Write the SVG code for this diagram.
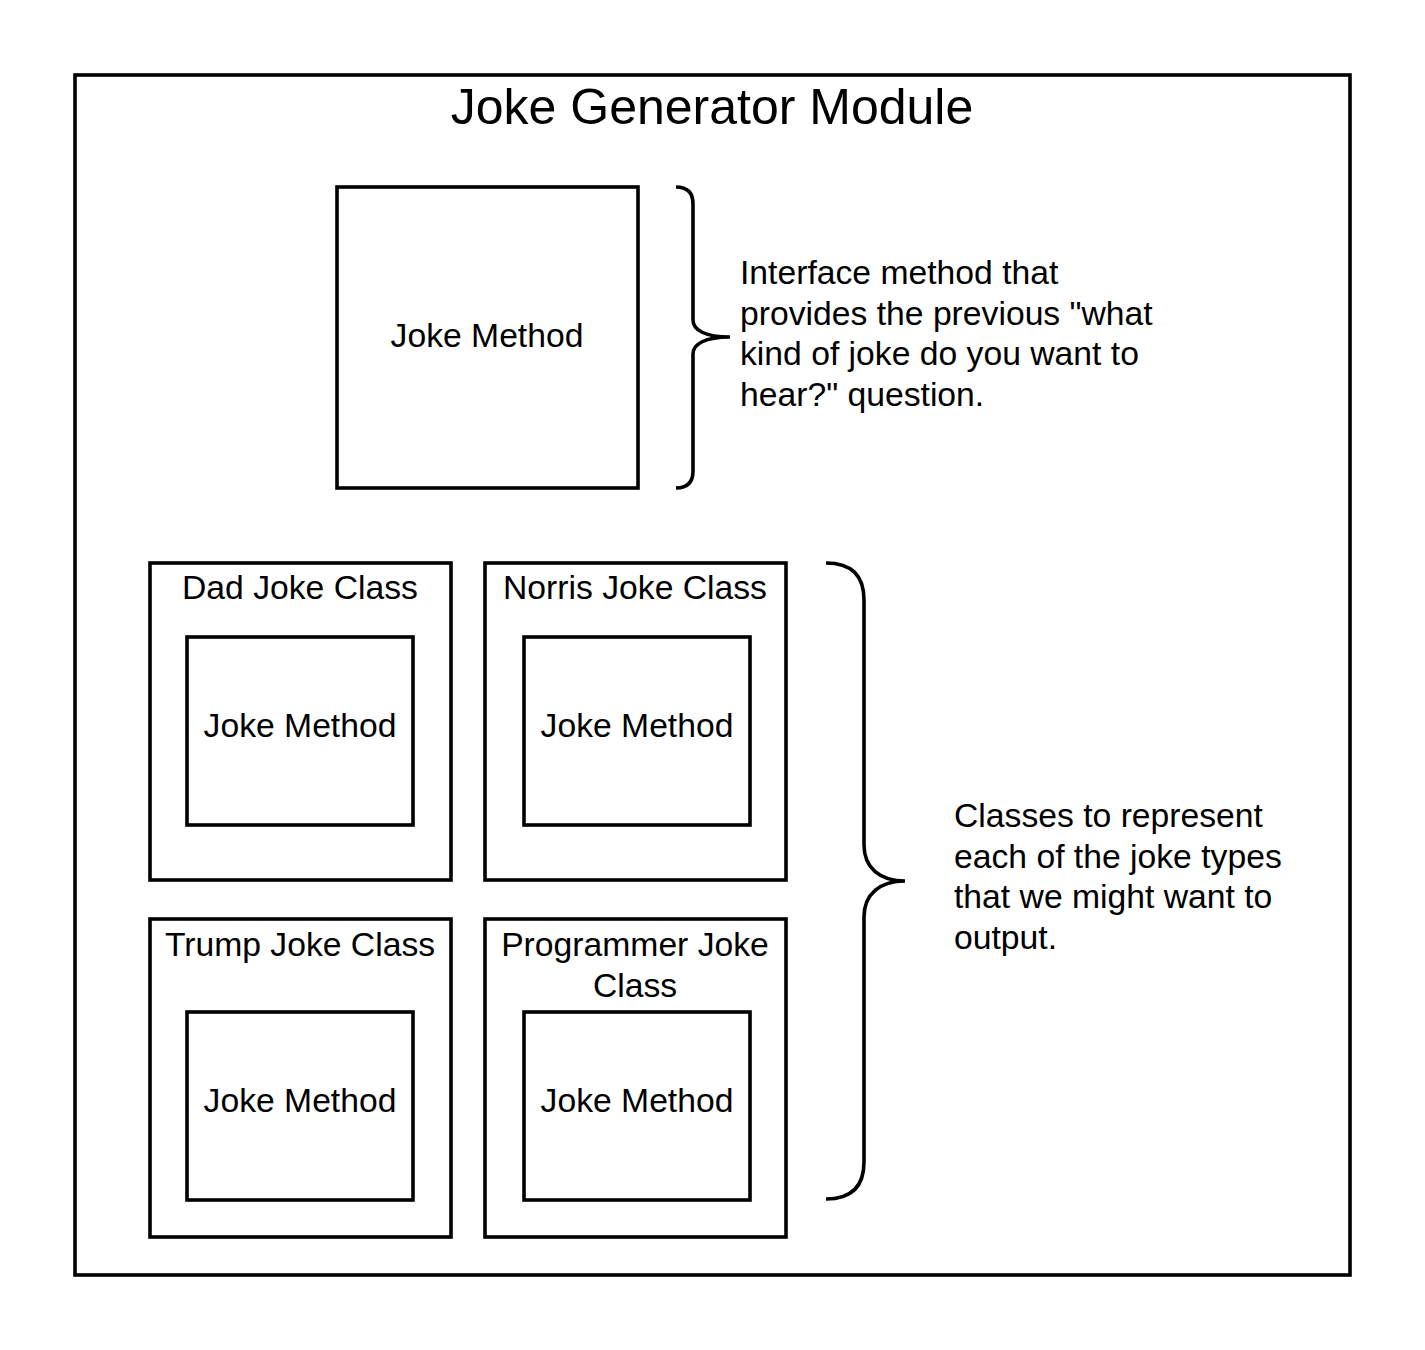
<svg xmlns="http://www.w3.org/2000/svg" width="1425" height="1350" viewBox="0 0 1425 1350">
<style>
.box{fill:#fff;stroke:#000;stroke-width:3.6}
.br{fill:none;stroke:#000;stroke-width:3.6}
text{font-family:"Liberation Sans",Arial,sans-serif;fill:#000}
.t{font-size:33.7px}
.c{text-anchor:middle}
.title{font-size:50px;text-anchor:middle}
</style>
<rect width="1425" height="1350" fill="#fff"/>
<g id="module">
<rect class="box" x="75" y="75" width="1275" height="1200"/>
<text class="title" x="712" y="124">Joke Generator Module</text>
</g>
<g id="interface-method">
<rect class="box" x="337" y="187" width="301" height="301"/>
<text class="t c" x="487" y="347">Joke Method</text>
</g>
<g id="dad-class">
<rect class="box" x="150" y="563" width="301" height="317"/>
<text class="t c" x="300" y="599">Dad Joke Class</text>
<g id="dad-method">
<rect class="box" x="187" y="637" width="226" height="188"/>
<text class="t c" x="300" y="737">Joke Method</text>
</g>
</g>
<g id="norris-class">
<rect class="box" x="485" y="563" width="301" height="317"/>
<text class="t c" x="635" y="599">Norris Joke Class</text>
<g id="norris-method">
<rect class="box" x="524" y="637" width="226" height="188"/>
<text class="t c" x="637" y="737">Joke Method</text>
</g>
</g>
<g id="trump-class">
<rect class="box" x="150" y="919" width="301" height="318"/>
<text class="t c" x="300" y="956">Trump Joke Class</text>
<g id="trump-method">
<rect class="box" x="187" y="1012" width="226" height="188"/>
<text class="t c" x="300" y="1112">Joke Method</text>
</g>
</g>
<g id="programmer-class">
<rect class="box" x="485" y="919" width="301" height="318"/>
<text class="t c" x="635" y="956">Programmer Joke</text>
<text class="t c" x="635" y="997">Class</text>
<g id="programmer-method">
<rect class="box" x="524" y="1012" width="226" height="188"/>
<text class="t c" x="637" y="1112">Joke Method</text>
</g>
</g>
<g id="connectors">
<path class="br" d="M676,187 Q693,187 693,204 L693,320 C693,330 705,337 730,337 C705,337 693,344 693,354 L693,471 Q693,488 676,488"/>
<path class="br" d="M826,563 Q864,563 864,600 L864,845 C864,868 880,881 905,881 C880,881 864,894 864,917 L864,1162 Q864,1199 826,1199"/>
</g>
<g id="note-interface">
<text class="t" x="740"><tspan x="740" y="284">Interface method that</tspan><tspan x="740" y="324.5">provides the previous "what</tspan><tspan x="740" y="365">kind of joke do you want to</tspan><tspan x="740" y="405.5">hear?" question.</tspan></text>
</g>
<g id="note-classes">
<text class="t" x="954"><tspan x="954" y="827">Classes to represent</tspan><tspan x="954" y="867.5">each of the joke types</tspan><tspan x="954" y="908">that we might want to</tspan><tspan x="954" y="948.5">output.</tspan></text>
</g>
</svg>
